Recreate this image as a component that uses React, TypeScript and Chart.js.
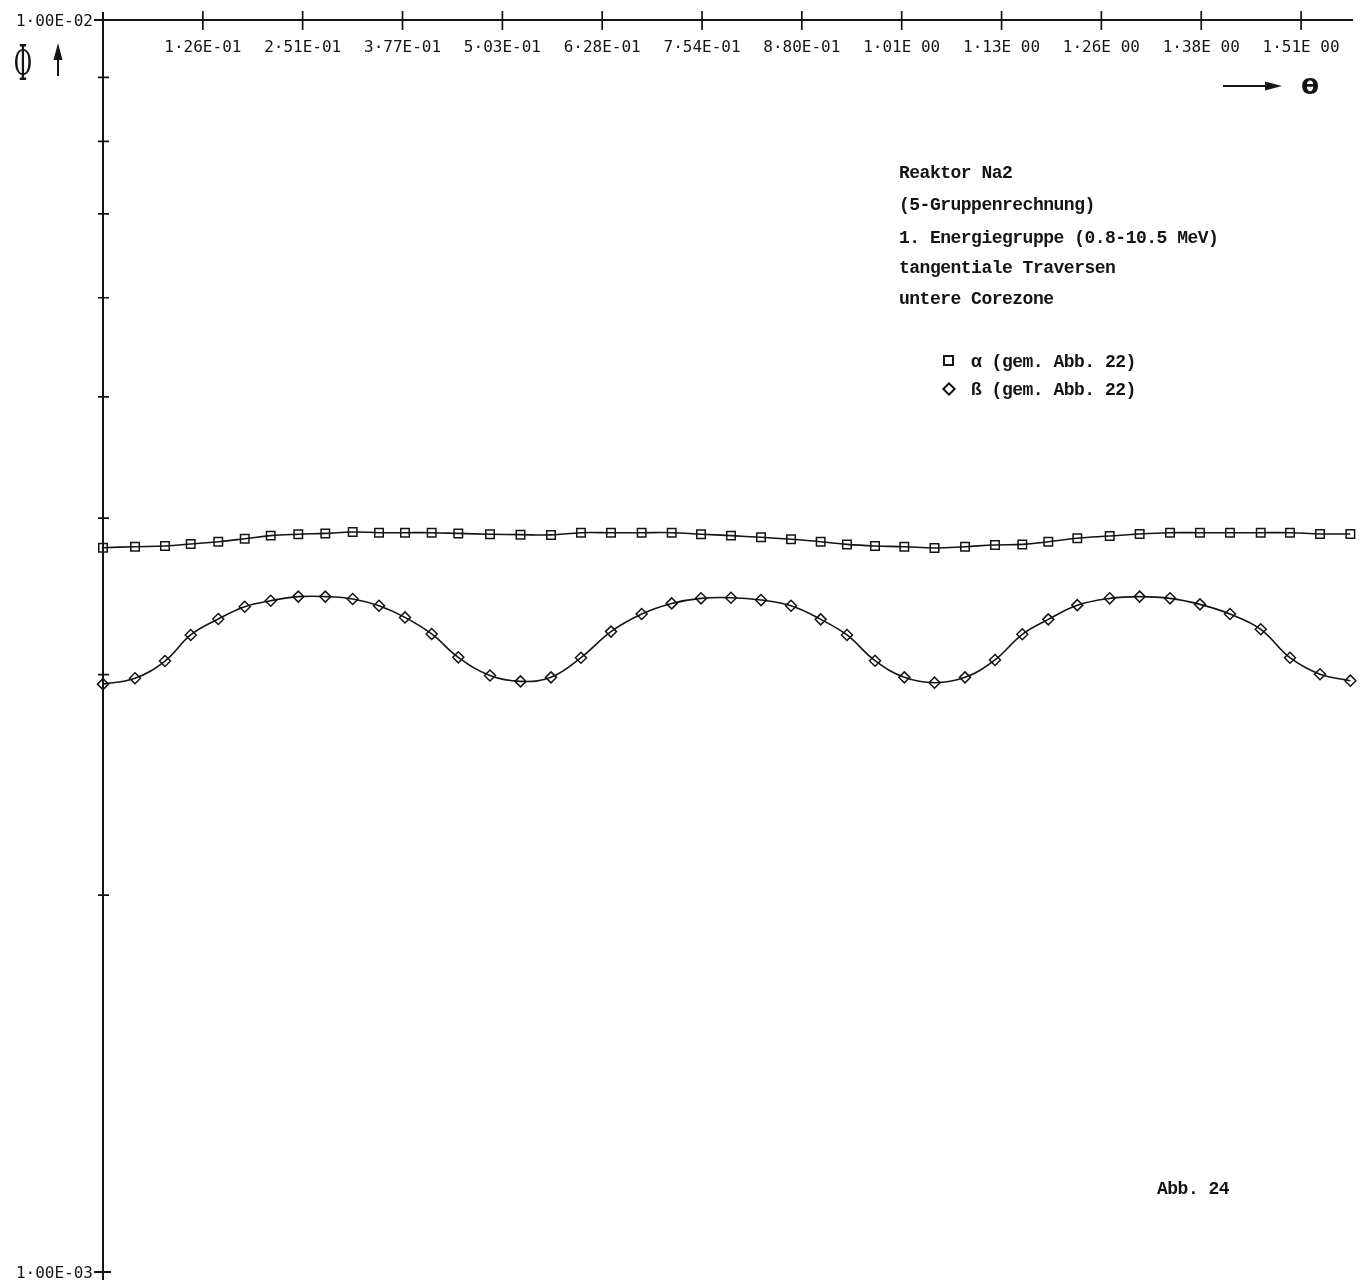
import React, { useEffect, useRef } from "react";
import { Chart, registerables } from "chart.js";

Chart.register(...registerables);

// θ in radians (x axis runs from 0 to π/2)
const thetaRad = [
  0, 0.0403, 0.078, 0.1104, 0.1451, 0.1784, 0.2111, 0.2458, 0.2798, 0.3143,
  0.3474, 0.3801, 0.4137, 0.4472, 0.4871, 0.5255, 0.5639, 0.6016, 0.6394, 0.678,
  0.7158, 0.7527, 0.7904, 0.8282, 0.866, 0.9033, 0.9364, 0.9717, 1.0086, 1.0466,
  1.085, 1.1227, 1.1571, 1.1898, 1.2263, 1.2671, 1.3048, 1.343, 1.3807, 1.4185,
  1.4572, 1.494, 1.5318, 1.57,
];

// Φ values (×1E-03)
const alphaFlux = [
  3.789, 3.796, 3.801, 3.815, 3.831, 3.852, 3.874, 3.884, 3.89, 3.9,
  3.895, 3.895, 3.895, 3.89, 3.884, 3.881, 3.879, 3.895, 3.895, 3.895,
  3.895, 3.884, 3.874, 3.862, 3.848, 3.831, 3.812, 3.801, 3.796, 3.787,
  3.796, 3.808, 3.812, 3.831, 3.855, 3.871, 3.886, 3.895, 3.895, 3.895,
  3.895, 3.895, 3.886, 3.886,
];

const betaFlux = [
  2.948, 2.98, 3.076, 3.227, 3.323, 3.399, 3.437, 3.463, 3.463, 3.448,
  3.405, 3.333, 3.233, 3.097, 2.995, 2.963, 2.985, 3.095, 3.247, 3.354,
  3.42, 3.452, 3.456, 3.441, 3.405, 3.321, 3.227, 3.078, 2.985, 2.956,
  2.985, 3.082, 3.231, 3.321, 3.409, 3.452, 3.463, 3.452, 3.414, 3.354,
  3.261, 3.095, 3.002, 2.967,
];

const xMin = 0;
const xMax = 1.5708;
const yMin = 0.001;
const yMax = 0.01;

const xTickValues = [
  0.1257, 0.2513, 0.377, 0.5027, 0.6283, 0.754, 0.8796, 1.0053, 1.131, 1.2566,
  1.3823, 1.508,
];
const xTickLabels = [
  "1·26E-01", "2·51E-01", "3·77E-01", "5·03E-01", "6·28E-01", "7·54E-01",
  "8·80E-01", "1·01E 00", "1·13E 00", "1·26E 00", "1·38E 00", "1·51E 00",
];

const yTickValues = [0.002, 0.003, 0.004, 0.005, 0.006, 0.007, 0.008, 0.009];
const yDecadeValues = [0.01, 0.001];
const yDecadeLabels = ["1·00E-02", "1·00E-03"];

const yAxisSymbol = "Φ";
const xAxisSymbol = "θ";

const noteLines = [
  "Reaktor Na2",
  "(5-Gruppenrechnung)",
  "1. Energiegruppe (0.8-10.5 MeV)",
  "tangentiale Traversen",
  "untere Corezone",
];
const legendLabels = ["α (gem. Abb. 22)", "ß (gem. Abb. 22)"];
const figureLabel = "Abb. 24";

const INK = "#141414";
const W = 1364;
const H = 1284;

const plotterAxes = {
  id: "plotterAxes",
  beforeDatasetsDraw(chart: any) {
    const { ctx, scales } = chart;
    const xs = scales.x;
    const ys = scales.y;
    const left = xs.getPixelForValue(xMin);
    const right = xs.getPixelForValue(xMax);
    const top = ys.getPixelForValue(yMax);
    const bottom = ys.getPixelForValue(yMin);

    ctx.save();
    ctx.strokeStyle = INK;
    ctx.fillStyle = INK;
    ctx.lineCap = "butt";

    // axis lines
    ctx.lineWidth = 2;
    ctx.beginPath();
    ctx.moveTo(left - 9, top);
    ctx.lineTo(right + 2, top);
    ctx.moveTo(left, top - 8);
    ctx.lineTo(left, bottom + 8);
    ctx.moveTo(left - 9, bottom);
    ctx.lineTo(left + 8, bottom);
    ctx.stroke();

    // tick crosses
    ctx.lineWidth = 1.7;
    ctx.beginPath();
    xTickValues.forEach((v) => {
      const px = xs.getPixelForValue(v);
      ctx.moveTo(px, top - 9);
      ctx.lineTo(px, top + 10);
    });
    yTickValues.forEach((v) => {
      const py = ys.getPixelForValue(v);
      ctx.moveTo(left - 5, py);
      ctx.lineTo(left + 6, py);
    });
    ctx.stroke();

    // tick labels
    ctx.font = '16px "DejaVu Sans Mono"';
    ctx.textBaseline = "alphabetic";
    ctx.textAlign = "center";
    xTickLabels.forEach((t, i) => {
      ctx.fillText(t, xs.getPixelForValue(xTickValues[i]), top + 32);
    });
    ctx.textAlign = "right";
    yDecadeLabels.forEach((t, i) => {
      ctx.fillText(t, left - 10, ys.getPixelForValue(yDecadeValues[i]) + 6);
    });

    // y axis name with up arrow
    ctx.save();
    ctx.translate(23, top + 47);
    ctx.scale(0.8, 1.75);
    ctx.font = '28px "DejaVu Serif"';
    ctx.textAlign = "center";
    ctx.textBaseline = "middle";
    ctx.fillText(yAxisSymbol, 0, 0);
    ctx.restore();

    ctx.lineWidth = 2;
    ctx.beginPath();
    ctx.moveTo(58, top + 56);
    ctx.lineTo(58, top + 36);
    ctx.stroke();
    ctx.beginPath();
    ctx.moveTo(58, top + 23);
    ctx.lineTo(53.5, top + 40);
    ctx.lineTo(62.5, top + 40);
    ctx.closePath();
    ctx.fill();

    // x axis name with right arrow
    const ay = top + 66;
    ctx.beginPath();
    ctx.moveTo(right - 128, ay);
    ctx.lineTo(right - 80, ay);
    ctx.stroke();
    ctx.beginPath();
    ctx.moveTo(right - 69, ay);
    ctx.lineTo(right - 86, ay - 4.5);
    ctx.lineTo(right - 86, ay + 4.5);
    ctx.closePath();
    ctx.fill();
    ctx.save();
    ctx.translate(right - 41, ay + 2);
    ctx.scale(1.2, 1);
    ctx.font = 'bold 22px "DejaVu Sans"';
    ctx.textAlign = "center";
    ctx.textBaseline = "middle";
    ctx.fillText(xAxisSymbol, 0, 0);
    ctx.restore();

    ctx.restore();
  },
};

const noteStyle: React.CSSProperties = {
  position: "absolute",
  left: 899,
  fontFamily: '"Liberation Mono", monospace',
  fontWeight: "bold",
  fontSize: 18,
  letterSpacing: "-0.5px",
  lineHeight: "20px",
  color: INK,
  whiteSpace: "pre",
};

export default function App() {
  const canvasRef = useRef<HTMLCanvasElement | null>(null);

  useEffect(() => {
    const canvas = canvasRef.current;
    if (!canvas) return;
    const alphaPoints = thetaRad.map((t, i) => ({ x: t, y: alphaFlux[i] * 1e-3 }));
    const betaPoints = thetaRad.map((t, i) => ({ x: t, y: betaFlux[i] * 1e-3 }));

    const chart = new Chart(canvas, {
      type: "line",
      data: {
        datasets: [
          {
            label: legendLabels[0],
            data: alphaPoints,
            borderColor: INK,
            borderWidth: 1.6,
            backgroundColor: "rgba(0,0,0,0)",
            pointStyle: "rect",
            pointRadius: 6,
            pointBorderWidth: 1.5,
            pointBorderColor: INK,
            pointBackgroundColor: "rgba(0,0,0,0)",
            tension: 0.4,
            clip: false,
          },
          {
            label: legendLabels[1],
            data: betaPoints,
            borderColor: INK,
            borderWidth: 1.6,
            backgroundColor: "rgba(0,0,0,0)",
            pointStyle: "rectRot",
            pointRadius: 5.5,
            pointBorderWidth: 1.5,
            pointBorderColor: INK,
            pointBackgroundColor: "rgba(0,0,0,0)",
            tension: 0.4,
            clip: false,
          },
        ],
      },
      options: {
        animation: false,
        responsive: false,
        devicePixelRatio: 1,
        events: [],
        layout: { padding: { left: 103, right: 13, top: 20, bottom: 12 } },
        plugins: {
          legend: { display: false },
          tooltip: { enabled: false },
          title: { display: false },
        },
        scales: {
          x: { type: "linear", min: xMin, max: xMax, display: false },
          y: { type: "logarithmic", min: yMin, max: yMax, display: false },
        },
      },
      plugins: [plotterAxes],
    });
    return () => chart.destroy();
  }, []);

  return (
    <div
      style={{
        position: "absolute",
        left: 0,
        top: 0,
        width: W,
        height: H,
        background: "#fff",
        overflow: "hidden",
      }}
    >
      <canvas ref={canvasRef} width={W} height={H} style={{ display: "block" }} />
      {noteLines.map((line, i) => (
        <div key={i} style={{ ...noteStyle, top: [163, 195, 228, 258, 289][i] }}>
          {line}
        </div>
      ))}
      <div
        style={{
          position: "absolute",
          left: 943,
          top: 355,
          width: 7,
          height: 7,
          border: `2.5px solid ${INK}`,
        }}
      />
      <div style={{ ...noteStyle, left: 971, top: 352 }}>{legendLabels[0]}</div>
      <div
        style={{
          position: "absolute",
          left: 944,
          top: 384,
          width: 6,
          height: 6,
          border: `2.5px solid ${INK}`,
          transform: "rotate(45deg)",
        }}
      />
      <div style={{ ...noteStyle, left: 971, top: 380 }}>{legendLabels[1]}</div>
      <div style={{ ...noteStyle, left: 1157, top: 1179 }}>{figureLabel}</div>
    </div>
  );
}
